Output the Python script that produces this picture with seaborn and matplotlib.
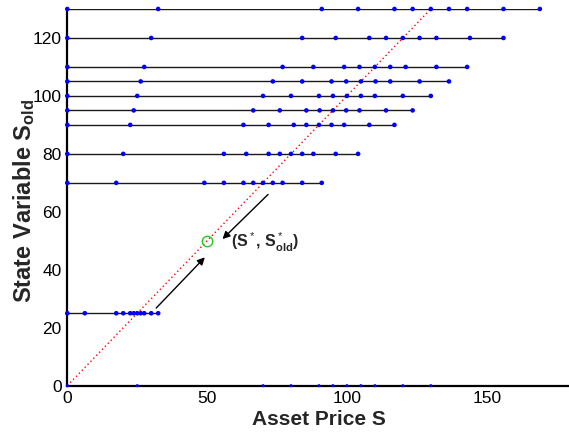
import matplotlib
matplotlib.use("Agg")
import matplotlib.pyplot as plt
import seaborn as sns
import pandas as pd

# State-variable levels (S_old) and the asset-price grid points on each level
state_levels = [130, 120, 110, 105, 100, 95, 90, 80, 70, 25]

prices_130 = [0, 32.5, 91, 104, 117, 123.5, 130, 136.5, 143, 156, 169]
prices_120 = [0, 30, 84, 96, 108, 114, 120, 126, 132, 144, 156]
prices_110 = [0, 27.5, 77, 88, 99, 104.5, 110, 115.5, 121, 132, 143]
prices_105 = [0, 26.25, 73.5, 84, 94.5, 99.75, 105, 110.25, 115.5, 126, 136.5]
prices_100 = [0, 25, 70, 80, 90, 95, 100, 105, 110, 120, 130]
prices_95 = [0, 23.75, 66.5, 76, 85.5, 90.25, 95, 99.75, 104.5, 114, 123.5]
prices_90 = [0, 22.5, 63, 72, 81, 85.5, 90, 94.5, 99, 108, 117]
prices_80 = [0, 20, 56, 64, 72, 76, 80, 84, 88, 96, 104]
prices_70 = [0, 17.5, 49, 56, 63, 66.5, 70, 73.5, 77, 84, 91]
prices_25 = [0, 6.25, 17.5, 20, 22.5, 23.75, 25, 26.25, 27.5, 30, 32.5]

price_rows = [prices_130, prices_120, prices_110, prices_105, prices_100,
              prices_95, prices_90, prices_80, prices_70, prices_25]

# Diagonal S = S_old and the fixed point marked on it
diag_x = [0, 130]
diag_y = [0, 130]
fixed_point = (50, 50)

x_ticks = [0, 50, 100, 150]
y_ticks = [0, 20, 40, 60, 80, 100, 120]

grid = pd.DataFrame(
    [(s, lvl) for lvl, row in zip(state_levels, price_rows) for s in row],
    columns=["S", "S_old"],
)
axis_marks = pd.DataFrame({"S": [0] + state_levels, "S_old": [0] * (len(state_levels) + 1)})

sns.set_theme(style="white")
plt.rcParams["font.family"] = ["Liberation Sans", "DejaVu Sans"]
plt.rcParams["mathtext.fontset"] = "custom"
plt.rcParams["mathtext.rm"] = "Liberation Sans"
plt.rcParams["mathtext.bf"] = "Liberation Sans:bold"
plt.rcParams["mathtext.it"] = "Liberation Sans:italic"

fig = plt.figure(figsize=(5.69, 4.36), dpi=100)
ax = fig.add_axes([0.1183, 0.1154, 0.8845, 0.864])

# horizontal grid lines for each S_old level
sns.lineplot(data=grid, x="S", y="S_old", units="S_old", estimator=None,
             color="#1a1a1a", lw=1.0, sort=True, ax=ax, legend=False)
# grid nodes
sns.scatterplot(data=grid, x="S", y="S_old", color="#0000ff", s=11,
                edgecolor="none", ax=ax, legend=False, clip_on=False, zorder=4)
sns.scatterplot(data=axis_marks, x="S", y="S_old", color="#0000ff", s=5,
                edgecolor="none", ax=ax, legend=False, clip_on=False, zorder=4)

# diagonal S = S_old
sns.lineplot(x=diag_x, y=diag_y, color="red", lw=1.0, linestyle=(0, (1, 2)),
             ax=ax, legend=False)

# fixed point
ax.plot([fixed_point[0]], [fixed_point[1]], marker="o", markersize=7.5,
        markerfacecolor="none", markeredgecolor="#22cc22", markeredgewidth=1.0,
        zorder=5)

ax.annotate("", xy=(49.2, 44.3), xytext=(31.8, 26.8),
            arrowprops=dict(arrowstyle="-|>", color="black", lw=1.0,
                            mutation_scale=11, shrinkA=0, shrinkB=0))
ax.annotate("", xy=(55.5, 50.6), xytext=(71.8, 66.0),
            arrowprops=dict(arrowstyle="-|>", color="black", lw=1.0,
                            mutation_scale=11, shrinkA=0, shrinkB=0))
ax.text(58.7, 49.3, r"(S$^*$, S$^*_{\mathbf{old}}$)", fontsize=11.5,
        fontweight="bold", ha="left", va="center")

ax.set_xlim(0, 180)
ax.set_ylim(0, 130)
ax.set_xticks(x_ticks)
ax.set_yticks(y_ticks)
ax.tick_params(direction="in", length=5, width=1.8, labelsize=12.5, pad=4,
               colors="black")
for side in ("top", "right"):
    ax.spines[side].set_visible(False)
for side in ("left", "bottom"):
    ax.spines[side].set_color("black")
    ax.spines[side].set_linewidth(1.6)

ax.set_xlabel("Asset Price S", fontsize=15, fontweight="bold", labelpad=3)
ax.set_ylabel(r"State Variable S$_{\mathbf{old}}$", fontsize=17,
              fontweight="bold")
ax.yaxis.set_label_coords(-0.060, 0.49)

fig.savefig("out.png", dpi=100)
